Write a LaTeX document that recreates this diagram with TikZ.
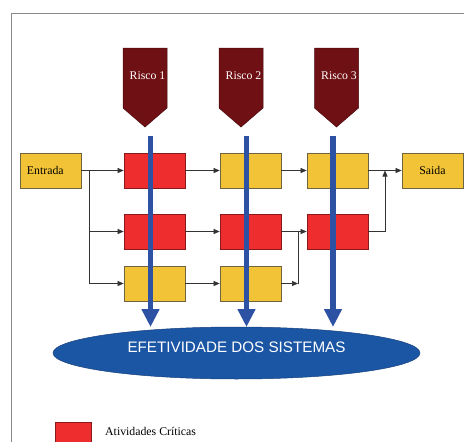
\documentclass[tikz,border=0pt]{standalone}
\usepackage{fontspec}
\setmainfont{Liberation Serif}
\newfontfamily\ellfont{Liberation Sans}
\usetikzlibrary{arrows.meta,shapes.geometric}
\definecolor{riskred}{HTML}{6F1014}
\definecolor{riskedge}{HTML}{4A0A0C}
\definecolor{critred}{HTML}{EE2E2E}
\definecolor{critedge}{HTML}{8A1A1A}
\definecolor{actyel}{HTML}{F2C336}
\definecolor{actedge}{HTML}{6E6440}
\definecolor{barblue}{HTML}{2D51A3}
\definecolor{ellblue}{HTML}{1B56A5}
\definecolor{elledge}{HTML}{173F7A}
\definecolor{framegray}{HTML}{8A8A8A}
\tikzset{
  actbox/.style={rectangle, draw=actedge, fill=actyel, line width=0.7pt,
    minimum width=61pt, minimum height=35pt, inner sep=0pt,
    font=\fontsize{11.8}{13}\selectfont},
  critbox/.style={actbox, draw=critedge, fill=critred},
  flow/.style={draw=black!80, line width=0.6pt, -{Triangle[width=5pt,length=6pt]}},
  flowline/.style={draw=black!80, line width=0.6pt},
  riskshape/.style={fill=riskred, draw=riskedge, line width=0.5pt},
  risklabel/.style={text=white, font=\fontsize{11.8}{13}\selectfont, inner sep=0pt},
  bluebar/.style={draw=barblue, line width=5.5pt, -{Triangle[width=17pt,length=18pt]}}
}
\begin{document}
\begin{tikzpicture}[x=1pt,y=-1pt]
\useasboundingbox (0,0) rectangle (464,442);
% frame
\draw[framegray, line width=1pt] (11,442) -- (11,13.5) -- (464,13.5);

% risk pentagons
\foreach \cx/\tx/\nm/\lab in {145/147.5/r1/Risco 1, 241/243.5/r2/Risco 2, 336.5/339/r3/Risco 3}{
  \path[riskshape] (\cx-22,48) -- (\cx+22,48) -- (\cx+22,108) -- (\cx,127) -- (\cx-22,108) -- cycle;
  \node[risklabel] (\nm) at (\tx,75.5) {\lab};
}

% ellipse
\node[ellipse, fill=ellblue, draw=elledge, line width=0.5pt, minimum width=367pt, minimum height=52pt, inner sep=0pt] (ell) at (236.5,353) {};
\node[text=white, font=\ellfont\fontsize{15.2}{17}\selectfont, inner sep=0pt] (elltext) at (236.5,347) {EFETIVIDADE DOS SISTEMAS};

% boxes
\node[actbox, text width=47pt, align=left] (in) at (50.5,170.5) {Entrada};
\node[critbox] (a1) at (154.5,170.5) {};
\node[actbox] (a2) at (250.5,170.5) {};
\node[actbox] (a3) at (337.5,170.5) {};
\node[actbox] (out) at (432.5,170.5) {Saida};
\node[critbox] (b1) at (154.5,231.5) {};
\node[critbox] (b2) at (250.5,231.5) {};
\node[critbox] (b3) at (337.5,231.5) {};
\node[actbox] (c1) at (154.5,283.5) {};
\node[actbox] (c2) at (250.5,283.5) {};

% junction coordinates
\coordinate (jin) at (89,170.5);
\coordinate (jb) at (89,231.5);
\coordinate (jc) at (89,283.5);
\coordinate (jm) at (298,231.5);
\coordinate (jmc) at (298,283.5);
\coordinate (jo) at (385,231.5);
\coordinate (joa) at (385,170.5);

% connectors
\draw[flow] (in.east) -- (a1.west);
\draw[flowline] (jin) -- (jc);
\draw[flow] (jb) -- (b1.west);
\draw[flow] (jc) -- (c1.west);
\draw[flow] (a1.east) -- (a2.west);
\draw[flow] (a2.east) -- (a3.west);
\draw[flow] (a3.east) -- (out.west);
\draw[flow] (b1.east) -- (b2.west);
\draw[flow] (b2.east) -- (b3.west);
\draw[flow] (c1.east) -- (c2.west);
\draw[flow] (c2.east) -- (jmc);
\draw[flowline] (jmc) -- (jm);
\draw[flowline] (b3.east) -- (jo);
\draw[flow] (jo) -- (joa);

% blue arrows
\coordinate (s1) at (150.5,136);
\coordinate (s2) at (246.5,136);
\coordinate (s3) at (333,136);
\coordinate (e1) at (150.5,327);
\coordinate (e2) at (246.5,327);
\coordinate (e3) at (333,327);
\draw[bluebar] (s1) -- (e1);
\draw[bluebar] (s2) -- (e2);
\draw[bluebar] (s3) -- (e3);

% legend
\node[rectangle, fill=critred, draw=critedge, line width=0.6pt, minimum width=36pt, minimum height=30pt, inner sep=0pt, anchor=north west] (leg) at (54.5,422) {};
\node[anchor=west, inner sep=0pt, font=\fontsize{11.8}{13}\selectfont] (legtext) at (105,431.5) {Atividades Críticas};
\end{tikzpicture}
\end{document}
